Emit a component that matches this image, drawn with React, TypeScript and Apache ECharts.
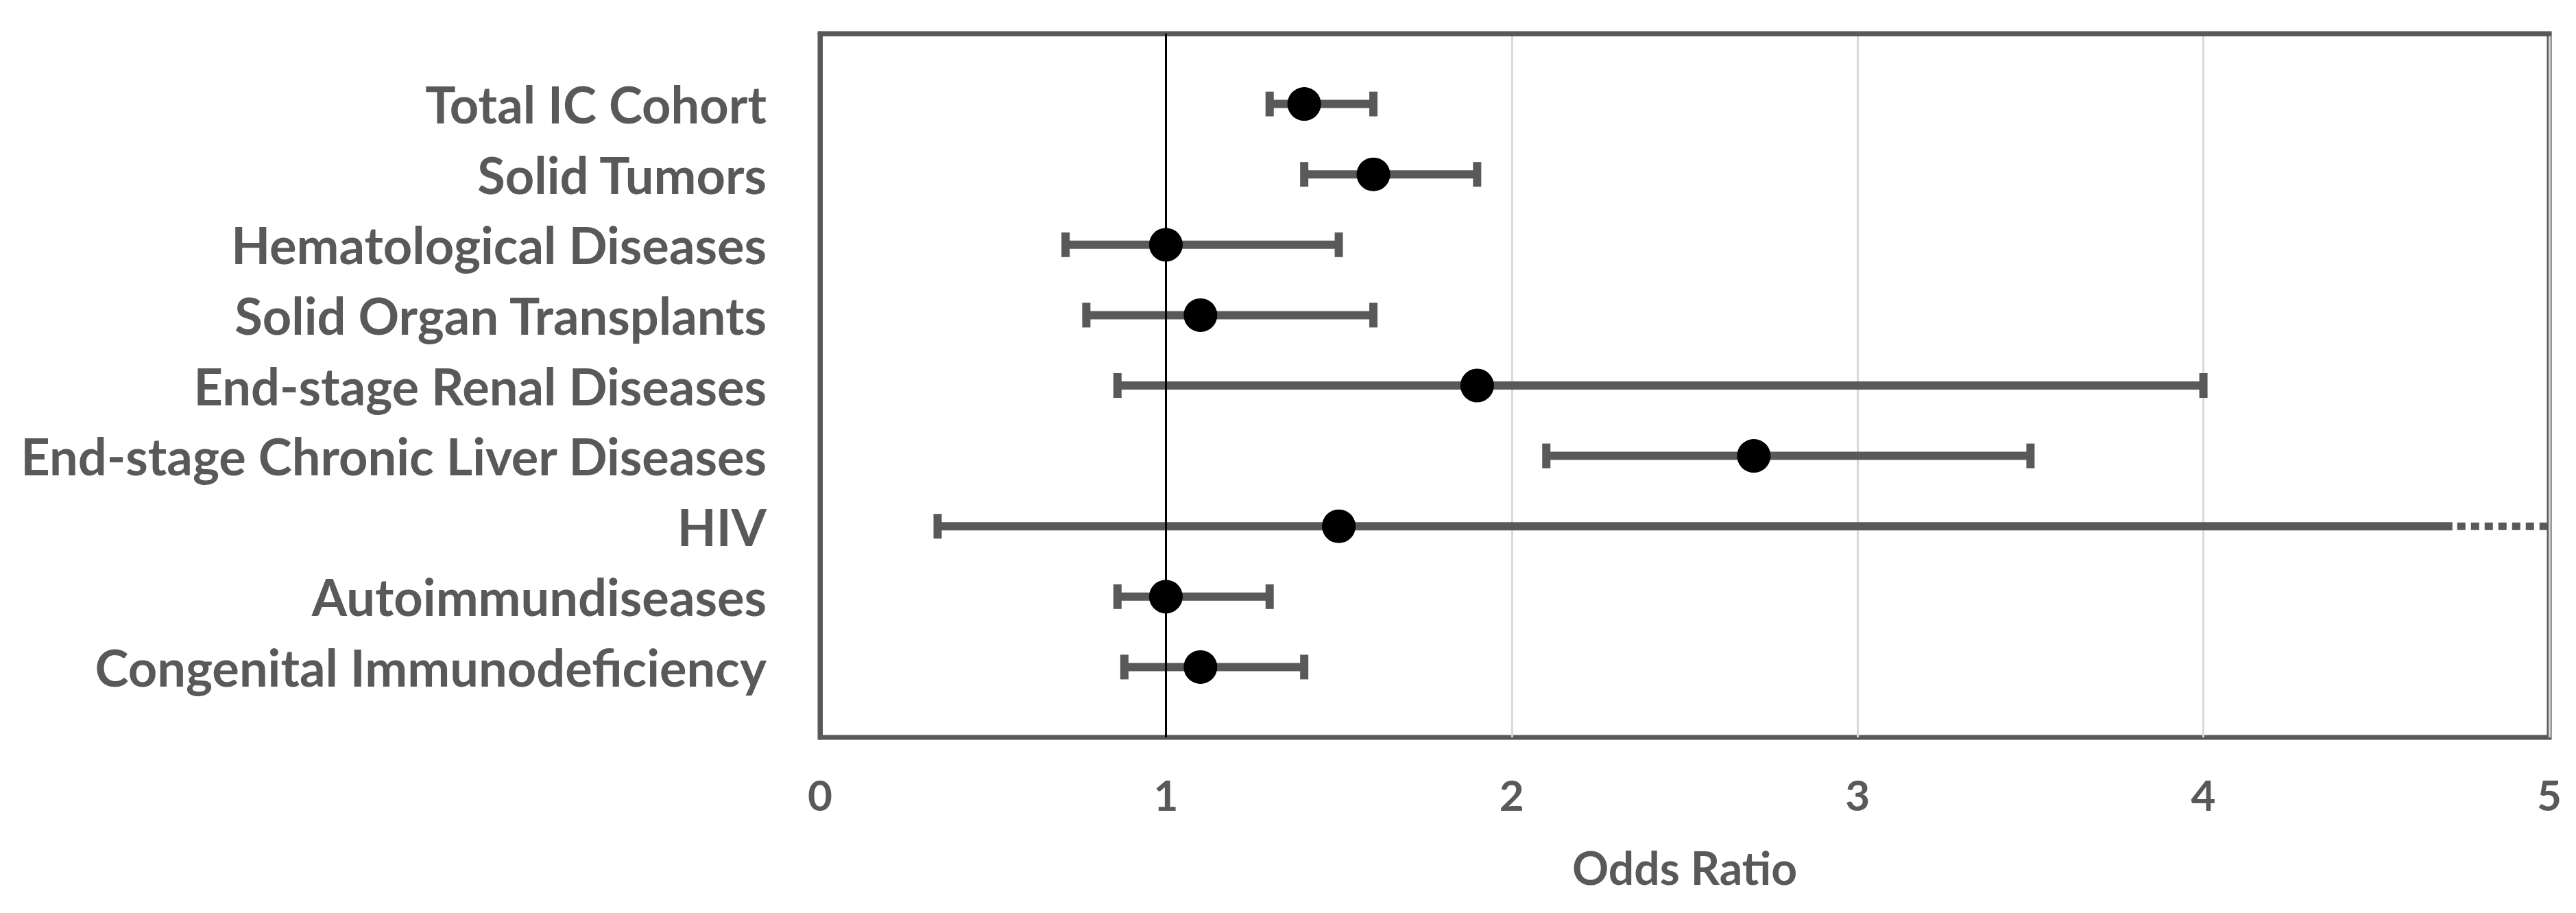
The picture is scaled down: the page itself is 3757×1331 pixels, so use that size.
import React, { useEffect, useRef } from "react";
import * as echarts from "echarts";

const categories = [
  "Total IC Cohort",
  "Solid Tumors",
  "Hematological Diseases",
  "Solid Organ Transplants",
  "End-stage Renal Diseases",
  "End-stage Chronic Liver Diseases",
  "HIV",
  "Autoimmundiseases",
  "Congenital Immunodeficiency",
];
const oddsRatio = [1.4, 1.6, 1.0, 1.1, 1.9, 2.7, 1.5, 1.0, 1.1];
const lowerCI = [1.3, 1.4, 0.71, 0.77, 0.86, 2.1, 0.34, 0.86, 0.88];
const upperCI = [1.6, 1.9, 1.5, 1.6, 4.0, 3.5, 4.72, 1.3, 1.4];
// rows whose upper CI runs beyond the axis (drawn dotted to the edge)
const openEnded = [false, false, false, false, false, false, true, false, false];
const xTicks = [0, 1, 2, 3, 4, 5];

const FONT = "Lato";
const GREY = "#595959";

export default function App() {
  const ref = useRef<HTMLDivElement>(null);
  useEffect(() => {
    document.body.style.margin = "0";
    const chart = echarts.init(ref.current!, undefined, { renderer: "svg" });
    const barData = categories.map((_, i) => [
      lowerCI[i],
      upperCI[i],
      i + 1,
      openEnded[i] ? 1 : 0,
    ]);
    const pointData = categories.map((_, i) => [oddsRatio[i], i + 1]);
    const xMax = xTicks[xTicks.length - 1];
    chart.setOption({
      animation: false,
      backgroundColor: "#ffffff",
      grid: {
        left: 1196,
        right: 39,
        top: 49,
        bottom: 256,
        show: true,
        borderColor: GREY,
        borderWidth: 7,
        containLabel: false,
        outerBoundsMode: "none",
      },
      xAxis: {
        type: "value",
        min: xTicks[0],
        max: xMax,
        interval: 1,
        axisLine: { show: true, lineStyle: { color: GREY, width: 7 } },
        axisTick: { show: false },
        splitLine: { show: true, lineStyle: { color: "#d9d9d9", width: 3 } },
        axisLabel: {
          fontFamily: FONT,
          fontWeight: "bold",
          fontSize: 62,
          color: GREY,
          margin: 52,
        },
        name: "Odds Ratio",
        nameLocation: "middle",
        nameGap: 156,
        nameTextStyle: {
          fontFamily: FONT,
          fontWeight: "bold",
          fontSize: 66,
          color: GREY,
        },
      },
      yAxis: {
        type: "value",
        min: 0,
        max: categories.length + 1,
        interval: 1,
        inverse: true,
        axisLine: { show: true, lineStyle: { color: GREY, width: 7 } },
        axisTick: { show: false },
        splitLine: { show: false },
        axisLabel: {
          fontFamily: FONT,
          fontWeight: "bold",
          fontSize: 74,
          color: GREY,
          margin: 78,
          formatter: (v: number) => categories[v - 1] || "",
        },
      },
      series: [
        {
          type: "custom",
          data: barData,
          z: 3,
          renderItem: (params: any, api: any) => {
            const lo = api.value(0);
            const hi = api.value(1);
            const y = api.value(2);
            const open = api.value(3);
            const pLo = api.coord([lo, y]);
            const pHi = api.coord([hi, y]);
            const capH = 18;
            const style = { stroke: GREY, lineWidth: 12, lineCap: "butt" };
            const capStyle = { stroke: GREY, lineWidth: 12, lineCap: "butt" };
            const children: any[] = [
              { type: "line", shape: { x1: pLo[0], y1: pLo[1], x2: pHi[0], y2: pHi[1] }, style },
              { type: "line", shape: { x1: pLo[0], y1: pLo[1] - capH, x2: pLo[0], y2: pLo[1] + capH }, style: capStyle },
            ];
            if (open) {
              const pEnd = api.coord([xMax, y]);
              children.push({
                type: "line",
                shape: { x1: pHi[0] + 7, y1: pHi[1], x2: pEnd[0], y2: pEnd[1] },
                style: { stroke: GREY, lineWidth: 11, lineDash: [12, 8], lineCap: "butt" },
              });
            } else {
              children.push({
                type: "line",
                shape: { x1: pHi[0], y1: pHi[1] - capH, x2: pHi[0], y2: pHi[1] + capH },
                style: capStyle,
              });
            }
            return { type: "group", children };
          },
        },
        {
          type: "scatter",
          data: pointData,
          symbol: "circle",
          symbolSize: 49,
          itemStyle: { color: "#000000", opacity: 1 },
          z: 5,
          markLine: {
            silent: true,
            symbol: "none",
            label: { show: false },
            lineStyle: { color: "#000000", width: 3, type: "solid", opacity: 1 },
            data: [{ xAxis: 1 }],
            z: 4,
          },
        },
      ],
    });
    return () => chart.dispose();
  }, []);
  return (
    <div
      ref={ref}
      style={{ position: "absolute", left: 0, top: 0, width: 3757, height: 1331 }}
    />
  );
}
